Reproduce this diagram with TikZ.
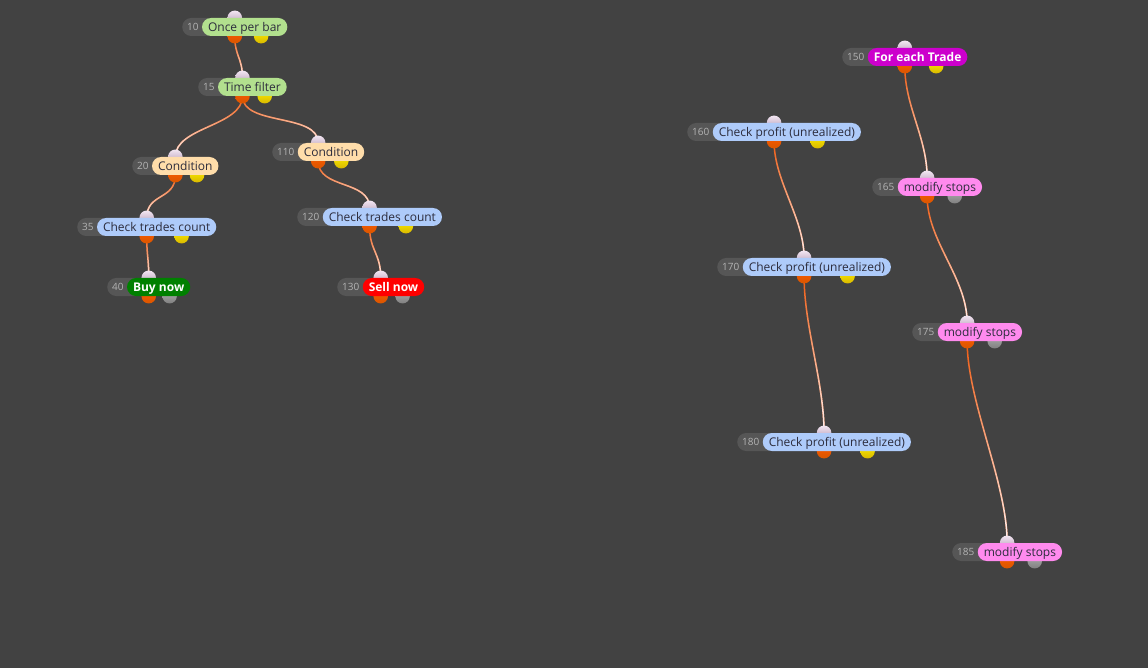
\documentclass[tikz,border=0pt]{standalone}
\usepackage{fontspec}
\setmainfont{Open Sans}
\usetikzlibrary{calc,fadings}
\pgfdeclarelayer{canvasl}
\pgfdeclarelayer{links}
\pgfdeclarelayer{dots}
\pgfsetlayers{canvasl,links,dots,main}
\definecolor{canvas}{HTML}{424242}
\definecolor{badgegrey}{HTML}{565656}
\definecolor{numgrey}{HTML}{B4B4B4}
\definecolor{labeltext}{HTML}{2C2C3C}
\definecolor{greenfill}{HTML}{B2E08E}
\definecolor{peachfill}{HTML}{FFDDAA}
\definecolor{bluefill}{HTML}{AECBFA}
\definecolor{pinkfill}{HTML}{FF8AEE}
\definecolor{tradefill}{HTML}{CC00CC}
\definecolor{buyfill}{HTML}{008000}
\definecolor{sellfill}{HTML}{FF0000}
\definecolor{linkorange}{HTML}{F05A10}
\definecolor{linkwhite}{HTML}{FFF4F4}
\tikzfading[name=fadedown, top color=transparent!100, bottom color=transparent!0]

% one block: id, left x, centre y, pill style, label, second dot
\newcommand{\block}[6]{%
  \node[badge, anchor=west] (n#1) at (#2,#3) {#1\hspace*{13pt}};
  \node[pill, #4, anchor=west] (b#1) at ([xshift=-15pt]n#1.east) {#5};
  \coordinate (c#1) at ($(n#1.west)!0.5!(b#1.east)$);
  \coordinate (d#1) at ($(n#1.west)!0.75!(b#1.east)$);
  \begin{pgfonlayer}{dots}
    \node[dot, indot] (i#1) at (c#1 |- b#1.north) {};
    \node[dot, outdot] (o#1) at (c#1 |- b#1.south) {};
    \node[dot, #6] (s#1) at (d#1 |- b#1.south) {};
  \end{pgfonlayer}}

\begin{document}
\begin{tikzpicture}[x=1pt,y=-1pt,
    badge/.style={fill=badgegrey, rounded corners=9pt, minimum height=18pt,
      inner xsep=5pt, inner ysep=0pt, text=numgrey,
      font=\fontsize{10}{12}\selectfont, text height=7.2pt, text depth=0pt},
    pill/.style={rounded corners=9pt, minimum height=18pt, inner xsep=6pt,
      inner ysep=0pt, text=labeltext, font=\fontsize{12}{14}\selectfont,
      text height=8.6pt, text depth=0pt},
    greenpill/.style={fill=greenfill},
    peachpill/.style={fill=peachfill},
    bluepill/.style={fill=bluefill},
    pinkpill/.style={fill=pinkfill},
    tradepill/.style={fill=tradefill, text=white, font=\fontsize{12}{14}\selectfont\bfseries},
    buypill/.style={fill=buyfill, text=white, font=\fontsize{12}{14}\selectfont\bfseries},
    sellpill/.style={fill=sellfill, text=white, font=\fontsize{12}{14}\selectfont\bfseries},
    dot/.style={circle, minimum size=14.5pt, inner sep=0pt},
    indot/.style={top color=white!90!violet, bottom color=black!25!white!80!violet},
    outdot/.style={top color=orange!70!red, bottom color=red!20!orange!85!black},
    yeldot/.style={top color=yellow!90!orange, bottom color=yellow!70!orange!85!black},
    greydot/.style={top color=black!30, bottom color=black!50},
    link/.style={line width=1.5pt, draw=linkorange,
      postaction={draw=linkwhite, line width=1.5pt, path fading=fadedown}}]
  \begin{pgfonlayer}{canvasl}
    \fill[canvas] (0,0) rectangle (1148,668);
  \end{pgfonlayer}
  \useasboundingbox (0,0) rectangle (1148,668);
  % left tree
  \block{10}{182}{27}{greenpill}{Once per bar}{yeldot}
  \block{15}{198}{87}{greenpill}{Time filter}{yeldot}
  \block{20}{132}{166}{peachpill}{Condition}{yeldot}
  \block{35}{77}{227}{bluepill}{Check trades count}{yeldot}
  \block{40}{107}{287}{buypill}{Buy now}{greydot}
  \block{110}{272}{152}{peachpill}{Condition}{yeldot}
  \block{120}{297}{217}{bluepill}{Check trades count}{yeldot}
  \block{130}{337}{287}{sellpill}{Sell now}{greydot}
  % right chains
  \block{150}{842}{57}{tradepill}{For each Trade}{yeldot}
  \block{160}{687}{132}{bluepill}{Check profit (unrealized)}{yeldot}
  \block{165}{872}{187}{pinkpill}{modify stops}{greydot}
  \block{170}{717}{267}{bluepill}{Check profit (unrealized)}{yeldot}
  \block{175}{912}{332}{pinkpill}{modify stops}{greydot}
  \block{180}{737}{442}{bluepill}{Check profit (unrealized)}{yeldot}
  \block{185}{952}{552}{pinkpill}{modify stops}{greydot}
  \begin{pgfonlayer}{links}
    \draw[link] (o10.center) .. controls +(0,20) and +(0,-20) .. (i15.center);
    \draw[link] (o15.center) .. controls +(0,30) and +(0,-30) .. (i20.center);
    \draw[link] (o15.center) .. controls +(0,30) and +(0,-30) .. (i110.center);
    \draw[link] (o20.center) .. controls +(0,25) and +(0,-25) .. (i35.center);
    \draw[link] (o35.center) .. controls +(0,20) and +(0,-20) .. (i40.center);
    \draw[link] (o110.center) .. controls +(0,28) and +(0,-28) .. (i120.center);
    \draw[link] (o120.center) .. controls +(0,25) and +(0,-25) .. (i130.center);
    \draw[link] (o160.center) .. controls +(0,40) and +(0,-40) .. (i170.center);
    \draw[link] (o170.center) .. controls +(0,50) and +(0,-50) .. (i180.center);
    \draw[link] (o150.center) .. controls +(0,40) and +(0,-40) .. (i165.center);
    \draw[link] (o165.center) .. controls +(0,45) and +(0,-45) .. (i175.center);
    \draw[link] (o175.center) .. controls +(0,60) and +(0,-60) .. (i185.center);
  \end{pgfonlayer}
\end{tikzpicture}
\end{document}
